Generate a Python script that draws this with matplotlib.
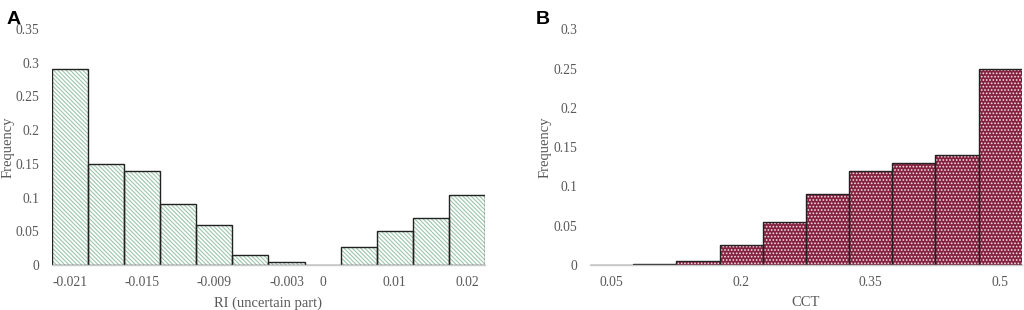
import numpy as np
import matplotlib
matplotlib.use('Agg')
import matplotlib.pyplot as plt

plt.rcParams['font.family'] = ['Liberation Serif', 'DejaVu Serif']
plt.rcParams['hatch.linewidth'] = 0.8

# panel A data
ri_bins = ['-0.021', '-0.018', '-0.015', '-0.012', '-0.009', '-0.006', '-0.003',
           '0', '0.005', '0.01', '0.015', '0.02']
ri_freq = [0.29, 0.15, 0.14, 0.09, 0.06, 0.015, 0.005, 0.0, 0.026, 0.05, 0.07, 0.104]
ri_shown = ['-0.021', '-0.015', '-0.009', '-0.003', '0', '0.01', '0.02']

# panel B data
cct_bins = ['0.05', '0.1', '0.15', '0.2', '0.25', '0.3', '0.35', '0.4', '0.45', '0.5']
cct_freq = [0.0005, 0.001, 0.005, 0.025, 0.055, 0.09, 0.12, 0.13, 0.14, 0.25]
cct_shown = ['0.05', '0.2', '0.35', '0.5']

grey = '#595959'

fig = plt.figure(figsize=(10.24, 3.10), dpi=100)
axA = fig.add_axes([0.0508, 0.1452, 0.4228, 0.7613])
axB = fig.add_axes([0.5762, 0.1452, 0.4216, 0.7603])


def draw(ax, cats, vals, shown, face, hatch, hcol, ymax, yticks, xlabel, ylab_x):
    x = np.arange(len(cats))
    ax.bar(x, vals, width=1.0, color=face, edgecolor=hcol, hatch=hatch, linewidth=0)
    ax.bar(x, vals, width=1.0, fill=False, edgecolor='#222222', linewidth=1.0)
    ax.set_xlim(-0.5, len(cats) - 0.5)
    ax.set_ylim(0, ymax)
    ax.set_xticks([cats.index(s) for s in shown])
    ax.set_xticklabels(shown)
    ax.set_yticks(yticks)
    ax.set_yticklabels(['0' if v == 0 else ('%g' % v) for v in yticks])
    ax.tick_params(length=0, labelsize=9.8, colors=grey, pad=8)
    ax.tick_params(axis='y', pad=9)
    for s in ['top', 'right', 'left']:
        ax.spines[s].set_visible(False)
    ax.spines['bottom'].set_color('#c8c8c8')
    ax.spines['bottom'].set_linewidth(1.0)
    ax.set_xlabel(xlabel, fontsize=10.5, color=grey, va='center')
    ax.set_ylabel('Frequency', fontsize=10.5, color=grey, va='center')
    ax.xaxis.set_label_coords(0.5, -0.161)
    ax.yaxis.set_label_coords(ylab_x, 0.5)


draw(axA, ri_bins, ri_freq, ri_shown, 'white', '\\\\\\\\\\\\\\\\', '#9cc6aa', 0.35,
     [0, 0.05, 0.1, 0.15, 0.2, 0.25, 0.3, 0.35], 'RI (uncertain part)', -0.101)
draw(axB, cct_bins, cct_freq, cct_shown, '#84223f', '.....', '#f4dde4', 0.3,
     [0, 0.05, 0.1, 0.15, 0.2, 0.25, 0.3], 'CCT', -0.104)

fig.text(0.006, 0.965, 'A', fontsize=14, fontweight='bold', family='Liberation Sans', va='top')
fig.text(0.523, 0.965, 'B', fontsize=14, fontweight='bold', family='Liberation Sans', va='top')

fig.savefig('out.png', dpi=100)
